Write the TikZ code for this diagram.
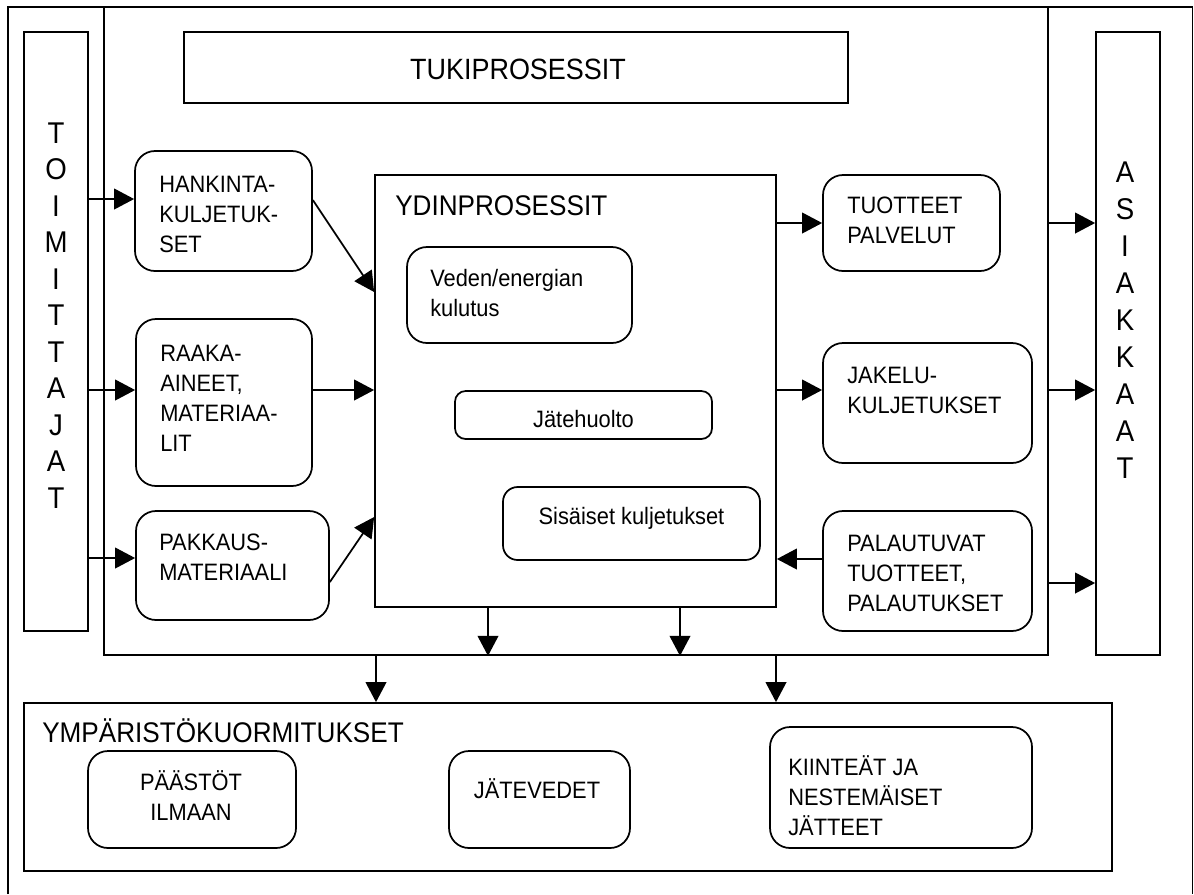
\documentclass[tikz,border=0pt]{standalone}
\usepackage{fontspec}
\setmainfont{Liberation Sans}[FakeStretch=0.92]
\usetikzlibrary{arrows.meta,fit}
\newcommand\mylines[2][l]{\begin{tabular}[t]{@{}#1@{}}#2\end{tabular}}
\begin{document}
\begin{tikzpicture}[x=0.75pt,y=-0.75pt,
  box/.style={draw, line width=1.3pt, inner sep=0pt},
  rbox/.style={box, rounded corners=15pt},
  txt/.style={inner sep=0pt, font=\fontsize{17.8}{22.7}\selectfont},
  big/.style={inner sep=0pt, font=\fontsize{21.3}{25}\selectfont},
  arr/.style={line width=1.3pt, -{Triangle[length=15pt,width=15.5pt]}}]
\useasboundingbox (0,0) rectangle (1194,894);
% outer frame
\draw[line width=1.3pt] (8,894) -- (8,7) -- (1192.5,7) -- (1192.5,894);
% main boxes
\node[box, fit={(104,7)(1048,655)}] (tuki) {};
\node[box, fit={(184,32)(848,103)}] (tukititle) {};
\node[inner sep=0pt, anchor=base, font=\fontsize{22}{25}\selectfont] (t-tuki) at (518,79) {TUKIPROSESSIT};
\node[box, fit={(24,32)(88,631)}] (toim) {};
\node[box, fit={(1096,32)(1160,655)}] (asiak) {};
\node[box, fit={(24,703)(1112,871)}] (ymp) {};
\node[box, fit={(375,175)(776,607)}] (ydin) {};
% rounded boxes
\node[rbox, fit={(135,151)(312,271)}] (hank) {};
\node[rbox, fit={(136,319)(312,486)}] (raaka) {};
\node[rbox, fit={(136,511)(329,620)}] (pakk) {};
\node[rbox, fit={(407,247)(632,343)}] (veden) {};
\node[box, rounded corners=8pt, fit={(455,391)(712,439)}] (jate) {};
\node[box, rounded corners=11pt, fit={(503,487)(760,560)}] (sis) {};
\node[rbox, fit={(823,175)(1000,271)}] (tuot) {};
\node[rbox, fit={(823,343)(1032,463)}] (jakelu) {};
\node[rbox, fit={(823,511)(1032,631)}] (palaut) {};
\node[rbox, fit={(88,751)(296,848)}] (paast) {};
\node[rbox, fit={(449,751)(630,848)}] (jatev) {};
\node[rbox, fit={(770,727)(1032,848)}] (kiint) {};
% texts
\node[inner sep=0pt, anchor=base, font=\fontsize{22.5}{27.4}\selectfont] (t-toim) at (56,143) {\mylines[c]{T\\O\\I\\M\\I\\T\\T\\A\\J\\A\\T}};
\node[inner sep=0pt, anchor=base, font=\fontsize{22.5}{27.75}\selectfont] (t-asiak) at (1125,182) {\mylines[c]{A\\S\\I\\A\\K\\K\\A\\A\\T}};
\node[txt, anchor=base west] (t-hank) at (159,192) {\mylines{HANKINTA-\\KULJETUK-\\SET}};
\node[txt, anchor=base west] (t-raaka) at (160,361) {\mylines{RAAKA-\\AINEET,\\MATERIAA-\\LIT}};
\node[txt, anchor=base west] (t-pakk) at (159,550) {\mylines{PAKKAUS-\\MATERIAALI}};
\node[txt, anchor=base west] (t-tuot) at (847,213) {\mylines{TUOTTEET\\PALVELUT}};
\node[txt, anchor=base west] (t-jak) at (847,383) {\mylines{JAKELU-\\KULJETUKSET}};
\node[txt, anchor=base west] (t-pal) at (847,551) {\mylines{PALAUTUVAT\\TUOTTEET,\\PALAUTUKSET}};
\node[txt, anchor=base west] (t-ved) at (430,286) {\mylines{Veden/energian\\kulutus}};
\node[txt, anchor=base] (t-jate) at (583.5,427) {Jätehuolto};
\node[txt, anchor=base] (t-sis) at (631.5,524) {Sisäiset kuljetukset};
\node[txt, anchor=base] (t-paa) at (191,790) {\mylines[c]{PÄÄSTÖT\\ILMAAN}};
\node[txt, anchor=base] (t-jv) at (537,798) {JÄTEVEDET};
\node[txt, anchor=base west] (t-kii) at (788,775) {\mylines{KIINTEÄT JA\\NESTEMÄISET\\JÄTTEET}};
\node[big, anchor=base west] (t-ydin) at (395,215) {YDINPROSESSIT};
\node[big, anchor=base west] (t-ymp) at (42,742) {YMPÄRISTÖKUORMITUKSET};
% helper coordinates
\coordinate (y1) at (0,199);
\coordinate (y2) at (0,390);
\coordinate (y3) at (0,558);
\coordinate (y4) at (0,200);
\coordinate (y5) at (0,292);
\coordinate (y6) at (0,582);
\coordinate (y7) at (0,517);
\coordinate (y8) at (0,223);
\coordinate (y9) at (0,559);
\coordinate (y10) at (0,583);
\coordinate (x1) at (488,0);
\coordinate (x2) at (680,0);
\coordinate (x3) at (376,0);
\coordinate (x4) at (776,0);
% connectors
\draw[arr] (toim.east |- y1) -- (hank.west |- y1);
\draw[arr] (toim.east |- y2) -- (raaka.west |- y2);
\draw[arr] (toim.east |- y3) -- (pakk.west |- y3);
\draw[arr] (hank.east |- y4) -- (ydin.west |- y5);
\draw[arr] (raaka.east |- y2) -- (ydin.west |- y2);
\draw[arr] (pakk.east |- y6) -- (ydin.west |- y7);
\draw[arr] (ydin.east |- y8) -- (tuot.west |- y8);
\draw[arr] (ydin.east |- y2) -- (jakelu.west |- y2);
\draw[arr] (palaut.west |- y9) -- (ydin.east |- y9);
\draw[arr] (tuki.east |- y8) -- (asiak.west |- y8);
\draw[arr] (tuki.east |- y2) -- (asiak.west |- y2);
\draw[arr] (tuki.east |- y10) -- (asiak.west |- y10);
\draw[arr] (ydin.south -| x1) -- (tuki.south -| x1);
\draw[arr] (ydin.south -| x2) -- (tuki.south -| x2);
\draw[arr] (tuki.south -| x3) -- (ymp.north -| x3);
\draw[arr] (tuki.south -| x4) -- (ymp.north -| x4);
\end{tikzpicture}
\end{document}
